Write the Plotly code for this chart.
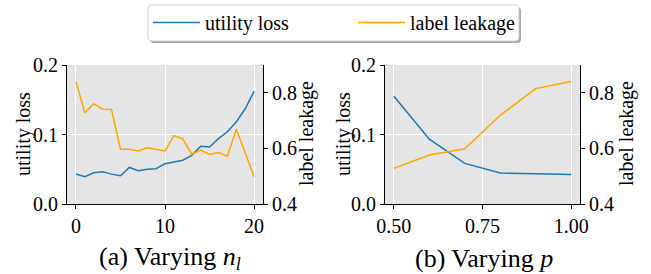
import plotly.graph_objects as go

# Panel (a): varying n_l
n_l = list(range(21))
util_a = [0.0431, 0.0392, 0.0450, 0.0464, 0.0430, 0.0407, 0.0526, 0.0478, 0.0500, 0.0507,
          0.0580, 0.0608, 0.0630, 0.0700, 0.0830, 0.0820, 0.0940, 0.1040, 0.1180, 0.1370, 0.1620]
leak_a = [0.841, 0.728, 0.761, 0.741, 0.740, 0.597, 0.597, 0.591, 0.602, 0.597,
          0.591, 0.646, 0.634, 0.579, 0.594, 0.578, 0.585, 0.572, 0.669, 0.584, 0.498]

# Panel (b): varying p
p_vals = [0.5, 0.6, 0.7, 0.8, 0.9, 1.0]
util_b = [0.155, 0.0933, 0.0584, 0.0445, 0.0435, 0.0426]
leak_b = [0.528, 0.576, 0.599, 0.719, 0.815, 0.841]

BLUE = "#1f77b4"
ORANGE = "#ffa500"
FONT = "Liberation Serif, Times New Roman, serif"
TF = 20

W, H = 651, 274
def px(x):
    return x / W
def py(y):
    return 1 - y / H

fig = go.Figure()
fig.add_trace(go.Scatter(x=n_l, y=util_a, mode="lines", line=dict(color=BLUE, width=1.5),
                         name="utility loss", xaxis="x", yaxis="y"))
fig.add_trace(go.Scatter(x=n_l, y=leak_a, mode="lines", line=dict(color=ORANGE, width=1.5),
                         name="label leakage", xaxis="x", yaxis="y2"))
fig.add_trace(go.Scatter(x=p_vals, y=util_b, mode="lines", line=dict(color=BLUE, width=1.5),
                         name="utility loss", showlegend=False, xaxis="x2", yaxis="y3"))
fig.add_trace(go.Scatter(x=p_vals, y=leak_b, mode="lines", line=dict(color=ORANGE, width=1.5),
                         name="label leakage", showlegend=False, xaxis="x2", yaxis="y4"))

ydom = [py(204), py(65)]
common = dict(showline=True, linecolor="black", linewidth=1, ticks="outside", ticklen=4,
              tickcolor="black", tickfont=dict(family=FONT, size=TF, color="black"),
              zeroline=False, mirror=False, automargin=False)


def rounded_rect(x0, y0, x1, y1, r):
    pts = [
        ("M", x0 + r, y0), ("L", x1 - r, y0), ("Q", x1, y0, x1, y0 + r),
        ("L", x1, y1 - r), ("Q", x1, y1, x1 - r, y1), ("L", x0 + r, y1),
        ("Q", x0, y1, x0, y1 - r), ("L", x0, y0 + r), ("Q", x0, y0, x0 + r, y0),
    ]
    out = []
    for p in pts:
        cmd = p[0]
        coords = p[1:]
        s = []
        for i in range(0, len(coords), 2):
            s.append(f"{px(coords[i]):.5f},{py(coords[i + 1]):.5f}")
        out.append(cmd + " " + " ".join(s))
    return " ".join(out) + " Z"


shapes = [
    dict(type="path", xref="paper", yref="paper", path=rounded_rect(150, 7, 521, 43, 4),
         fillcolor="rgba(0,0,0,0.35)", line=dict(width=0), layer="above"),
    dict(type="path", xref="paper", yref="paper", path=rounded_rect(148, 5, 519, 41, 4),
         fillcolor="white", line=dict(color="#d0d0d0", width=1), layer="above"),
]

fig.update_layout(
    width=W, height=H,
    margin=dict(l=0, r=0, t=0, b=0, autoexpand=False),
    paper_bgcolor="white",
    plot_bgcolor="#e5e5e5",
    font=dict(family=FONT, color="black", size=TF),
    xaxis=dict(domain=[px(67), px(263)], range=[-1, 21], tickvals=[0, 10, 20],
               showgrid=True, gridcolor="white", gridwidth=1, anchor="y", **common),
    yaxis=dict(domain=ydom, range=[0, 0.2], tickvals=[0, 0.1, 0.2], ticktext=["0.0", "0.1", "0.2"],
               showgrid=True, gridcolor="white", gridwidth=1, anchor="x", **common),
    yaxis2=dict(domain=ydom, range=[0.4, 0.9], tickvals=[0.4, 0.6, 0.8], ticktext=["0.4", "0.6", "0.8"],
                overlaying="y", side="right", anchor="x", showgrid=False, **common),
    xaxis2=dict(domain=[px(385), px(580)], range=[0.475, 1.025], tickvals=[0.5, 0.75, 1.0],
                ticktext=["0.50", "0.75", "1.00"],
                showgrid=True, gridcolor="white", gridwidth=1, anchor="y3", **common),
    yaxis3=dict(domain=ydom, range=[0, 0.2], tickvals=[0, 0.1, 0.2], ticktext=["0.0", "0.1", "0.2"],
                showgrid=True, gridcolor="white", gridwidth=1, anchor="x2", **common),
    yaxis4=dict(domain=ydom, range=[0.4, 0.9], tickvals=[0.4, 0.6, 0.8], ticktext=["0.4", "0.6", "0.8"],
                overlaying="y3", side="right", anchor="x2", showgrid=False, **common),
    legend=dict(orientation="h", x=px(148), xanchor="left", y=py(3), yanchor="top",
                borderwidth=0, bgcolor="rgba(0,0,0,0)",
                font=dict(family=FONT, size=TF, color="black"),
                entrywidth=143, itemwidth=47),
    showlegend=True,
    shapes=shapes,
)

ann = []
def label(x, y, text, size=TF, angle=0):
    ann.append(dict(x=px(x), y=py(y), xref="paper", yref="paper", text=text, showarrow=False,
                    textangle=angle, font=dict(family=FONT, size=size, color="black"),
                    xanchor="center", yanchor="middle"))

label(23, 134, "utility loss", angle=-90)
label(306, 134, "label leakage", angle=-90)
label(343, 134, "utility loss", angle=-90)
label(626, 134, "label leakage", angle=-90)
label(170, 258, "(a) Varying <i>n</i><sub><i>l</i></sub>", size=26)
label(484, 258, "(b) Varying <i>p</i>", size=26)
fig.update_layout(annotations=ann)

fig.write_html("out.html", config={"displayModeBar": False},
               post_script="document.body.style.margin='0';")
